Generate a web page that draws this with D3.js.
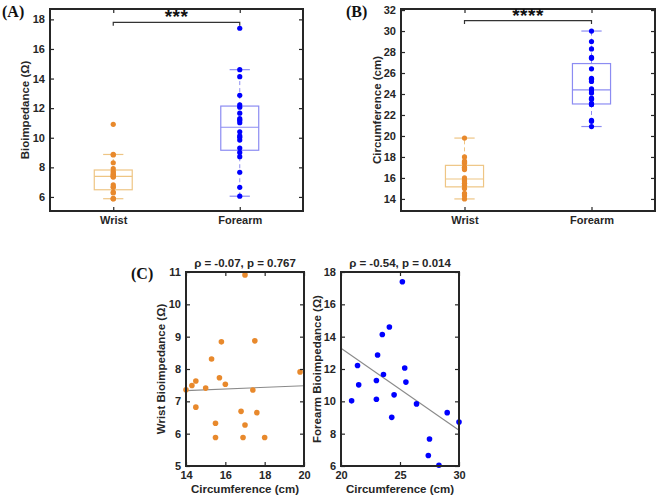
<!DOCTYPE html>
<html>
<head>
<meta charset="utf-8">
<script src="https://cdn.jsdelivr.net/npm/d3@7"></script>
<style>
	body { margin: 0; background: #fff; }
	svg { display: block; font-family: Arial, "Liberation Sans", Helvetica, sans-serif; }
	.tick text { font-weight: bold; fill: #262626; }
	.lbl { font-weight: bold; fill: #262626; }
	.panel-tag { font-family: "Liberation Serif", "Times New Roman", serif; font-weight: bold; font-size: 16px; fill: #111; }
</style>
</head>
<body>
<svg id="chart" width="658" height="497"></svg>
<script>
const SVG_W = 658;
const SVG_H = 497;

// Per subject values
const wristCirc = [17.0, 15.8, 17.5, 15.3, 19.8, 14.5, 15.7, 14.3, 16.0, 15.0, 14.0, 17.4, 14.5, 16.8, 17.6, 15.5, 17.0, 15.5, 16.9, 18.0];
const wristBio = [10.91, 8.84, 8.87, 8.31, 7.91, 7.63, 7.73, 7.49, 7.53, 7.41, 7.36, 7.35, 6.82, 6.69, 6.65, 6.32, 6.27, 5.88, 5.88, 5.88];
const forearmCirc = [25.2, 24.1, 23.5, 23.1, 21.4, 25.4, 23.6, 23.0, 25.5, 21.5, 24.5, 20.9, 23.0, 26.4, 29.0, 24.3, 30.0, 27.5, 27.4, 28.3];
const forearmBio = [17.4, 14.6, 14.13, 12.87, 12.22, 12.06, 11.66, 11.29, 11.19, 11.02, 10.40, 10.03, 10.13, 9.84, 9.30, 9.01, 8.72, 7.67, 6.65, 6.05];

const sites = ['Wrist', 'Forearm'];
const bioTicks = [6, 8, 10, 12, 14, 16, 18];
const circTicks = [14, 16, 18, 20, 22, 24, 26, 28, 30, 32];
const stars = ['***', '****'];
const corrTitles = ['\u03C1 = -0.07, p = 0.767', '\u03C1 = -0.54, p = 0.014'];

const colors = {
	wristDot: '#E8892C',
	wristBox: '#EEC584',
	forearmDot: '#0000FF',
	forearmBox: '#8C8CF2',
	axis: '#262626',
};

const svg = d3.select('#chart');

// MATLAB style quantile (midpoint interpolation)
function mquantile(values, p) {
	const s = values.slice().sort((a, b) => a - b);
	const n = s.length;
	const pos = n * p + 0.5;
	if (pos <= 1) return s[0];
	if (pos >= n) return s[n - 1];
	const i = Math.floor(pos);
	return s[i - 1] + (pos - i) * (s[i] - s[i - 1]);
}

function boxStats(values) {
	const q1 = mquantile(values, 0.25);
	const med = mquantile(values, 0.5);
	const q3 = mquantile(values, 0.75);
	const iqr = q3 - q1;
	const inside = values.filter(v => v >= q1 - 1.5 * iqr && v <= q3 + 1.5 * iqr);
	return { q1, med, q3, lo: d3.min(inside), hi: d3.max(inside) };
}

function frameAxes(g, x, y, xTicks, yTicks, xFmt, yFmt) {
	const [x0, x1] = x.range();
	const [y1, y0] = y.range();
	const tick = 4;

	const left = g.append('g').attr('transform', `translate(${x0},0)`)
		.call(d3.axisLeft(y).tickValues(yTicks).tickSizeInner(-tick).tickSizeOuter(0).tickPadding(5).tickFormat(yFmt));
	const right = g.append('g').attr('transform', `translate(${x1},0)`)
		.call(d3.axisRight(y).tickValues(yTicks).tickSizeInner(-tick).tickSizeOuter(0).tickFormat(''));
	const bottom = g.append('g').attr('transform', `translate(0,${y1})`)
		.call(d3.axisBottom(x).tickValues(xTicks).tickSizeInner(-tick).tickSizeOuter(0).tickPadding(5).tickFormat(xFmt));
	const top = g.append('g').attr('transform', `translate(0,${y0})`)
		.call(d3.axisTop(x).tickValues(xTicks).tickSizeInner(-tick).tickSizeOuter(0).tickFormat(''));

	[left, right, bottom, top].forEach((ax) => {
		ax.select('.domain').remove();
		ax.selectAll('line').attr('stroke', colors.axis).attr('stroke-width', 1.2);
		ax.selectAll('text').style('font-size', '11px');
	});

	g.append('rect')
		.attr('x', x0).attr('y', y0)
		.attr('width', x1 - x0).attr('height', y1 - y0)
		.attr('fill', 'none').attr('stroke', colors.axis).attr('stroke-width', 2);
}

function boxPanel(opts) {
	const g = svg.append('g');
	const x = d3.scaleLinear().domain([0.5, 2.5]).range([opts.x0, opts.x1]);
	const y = d3.scaleLinear().domain(opts.yDomain).range([opts.y1, opts.y0]);
	const boxW = 0.3;
	const capW = 0.16;

	opts.groups.forEach((grp, i) => {
		const cx = i + 1;
		const st = boxStats(grp.values);
		const gb = g.append('g');

		// whiskers
		[[st.q3, st.hi], [st.q1, st.lo]].forEach(([a, b]) => {
			gb.append('line')
				.attr('x1', x(cx)).attr('x2', x(cx))
				.attr('y1', y(a)).attr('y2', y(b))
				.attr('stroke', grp.boxColor).attr('stroke-width', 1)
				.attr('stroke-dasharray', '4,3');
			gb.append('line')
				.attr('x1', x(cx - capW / 2)).attr('x2', x(cx + capW / 2))
				.attr('y1', y(b)).attr('y2', y(b))
				.attr('stroke', grp.boxColor).attr('stroke-width', 1.2);
		});

		gb.append('rect')
			.attr('x', x(cx - boxW / 2)).attr('y', y(st.q3))
			.attr('width', x(cx + boxW / 2) - x(cx - boxW / 2))
			.attr('height', y(st.q1) - y(st.q3))
			.attr('fill', 'none').attr('stroke', grp.boxColor).attr('stroke-width', 1.2);
		gb.append('line')
			.attr('x1', x(cx - boxW / 2)).attr('x2', x(cx + boxW / 2))
			.attr('y1', y(st.med)).attr('y2', y(st.med))
			.attr('stroke', grp.boxColor).attr('stroke-width', 1.2);

		gb.selectAll('circle').data(grp.values).join('circle')
			.attr('cx', x(cx)).attr('cy', d => y(d))
			.attr('r', 2.6).attr('fill', grp.dotColor);
	});

	frameAxes(g, x, y, [1, 2], opts.yTicks, (d) => sites[d - 1], d3.format('d'));

	// significance bracket
	const by = y(opts.bracket);
	const drop = 3.5;
	g.append('path')
		.attr('d', `M${x(1)},${by + drop}V${by}H${x(2)}V${by + drop}`)
		.attr('fill', 'none').attr('stroke', '#333').attr('stroke-width', 1.2);
	g.append('text')
		.attr('x', (x(1) + x(2)) / 2).attr('y', by + 1)
		.attr('text-anchor', 'middle')
		.style('font-size', '19px').style('font-weight', 'bold').style('letter-spacing', '0.5px')
		.attr('fill', '#111')
		.text(opts.stars);

	g.append('text').attr('class', 'lbl')
		.attr('transform', `translate(${opts.yLabelX},${(opts.y0 + opts.y1) / 2}) rotate(-90)`)
		.attr('text-anchor', 'middle').attr('dominant-baseline', 'middle')
		.style('font-size', '11.5px')
		.text(opts.yLabel);

	g.append('text').attr('class', 'panel-tag')
		.attr('x', opts.tagX).attr('y', opts.tagY)
		.text(opts.tag);
}

function linFit(xs, ys) {
	const mx = d3.mean(xs);
	const my = d3.mean(ys);
	let sxy = 0;
	let sxx = 0;
	xs.forEach((v, i) => {
		sxy += (v - mx) * (ys[i] - my);
		sxx += (v - mx) * (v - mx);
	});
	const b = sxy / sxx;
	return { a: my - b * mx, b };
}

function scatterPanel(opts) {
	const g = svg.append('g');
	const x = d3.scaleLinear().domain(opts.xDomain).range([opts.x0, opts.x1]);
	const y = d3.scaleLinear().domain(opts.yDomain).range([opts.y1, opts.y0]);

	const fit = linFit(opts.xs, opts.ys);
	const [d0, d1] = opts.xDomain;
	g.append('line')
		.attr('x1', x(d0)).attr('y1', y(fit.a + fit.b * d0))
		.attr('x2', x(d1)).attr('y2', y(fit.a + fit.b * d1))
		.attr('stroke', '#8a8a8a').attr('stroke-width', 1.1);

	g.selectAll('circle').data(opts.xs).join('circle')
		.attr('cx', d => x(d)).attr('cy', (d, i) => y(opts.ys[i]))
		.attr('r', 2.8).attr('fill', opts.color);

	frameAxes(g, x, y, opts.xTicks, opts.yTicks, d3.format('d'), d3.format('d'));

	g.append('text').attr('class', 'lbl')
		.attr('x', (opts.x0 + opts.x1) / 2).attr('y', opts.y0 - 5)
		.attr('text-anchor', 'middle')
		.style('font-size', '11.5px')
		.text(opts.title);

	g.append('text').attr('class', 'lbl')
		.attr('x', (opts.x0 + opts.x1) / 2).attr('y', opts.y1 + 24)
		.attr('text-anchor', 'middle').attr('dominant-baseline', 'middle')
		.style('font-size', '11.5px')
		.text('Circumference (cm)');

	g.append('text').attr('class', 'lbl')
		.attr('transform', `translate(${opts.yLabelX},${(opts.y0 + opts.y1) / 2}) rotate(-90)`)
		.attr('text-anchor', 'middle').attr('dominant-baseline', 'middle')
		.style('font-size', '11.5px')
		.text(opts.yLabel);
}

boxPanel({
	x0: 50, x1: 303, y0: 9, y1: 211,
	yDomain: [5.05, 18.7],
	yTicks: bioTicks,
	groups: [
		{ values: wristBio, dotColor: colors.wristDot, boxColor: colors.wristBox },
		{ values: forearmBio, dotColor: colors.forearmDot, boxColor: colors.forearmBox },
	],
	bracket: 17.8,
	stars: stars[0],
	yLabel: 'Bioimpedance (\u03A9)',
	yLabelX: 26,
	tag: '(A)', tagX: 2, tagY: 17,
});

boxPanel({
	x0: 401, x1: 655, y0: 9, y1: 211,
	yDomain: [12.85, 32.1],
	yTicks: circTicks,
	groups: [
		{ values: wristCirc, dotColor: colors.wristDot, boxColor: colors.wristBox },
		{ values: forearmCirc, dotColor: colors.forearmDot, boxColor: colors.forearmBox },
	],
	bracket: 31,
	stars: stars[1],
	yLabel: 'Circumference (cm)',
	yLabelX: 378,
	tag: '(B)', tagX: 346, tagY: 17,
});

scatterPanel({
	x0: 186, x1: 304, y0: 272, y1: 466,
	xDomain: [14, 20], yDomain: [5, 11],
	xTicks: [14, 16, 18, 20], yTicks: [5, 6, 7, 8, 9, 10, 11],
	xs: wristCirc, ys: wristBio,
	color: colors.wristDot,
	title: corrTitles[0],
	yLabel: 'Wrist Bioimpedance (\u03A9)',
	yLabelX: 162,
});

scatterPanel({
	x0: 341, x1: 459, y0: 272, y1: 466,
	xDomain: [20, 30], yDomain: [6, 18],
	xTicks: [20, 25, 30], yTicks: [6, 8, 10, 12, 14, 16, 18],
	xs: forearmCirc, ys: forearmBio,
	color: colors.forearmDot,
	title: corrTitles[1],
	yLabel: 'Forearm Bioimpedance (\u03A9)',
	yLabelX: 318,
});

svg.append('text').attr('class', 'panel-tag')
	.attr('x', 131).attr('y', 279)
	.text('(C)');
</script>
</body>
</html>
